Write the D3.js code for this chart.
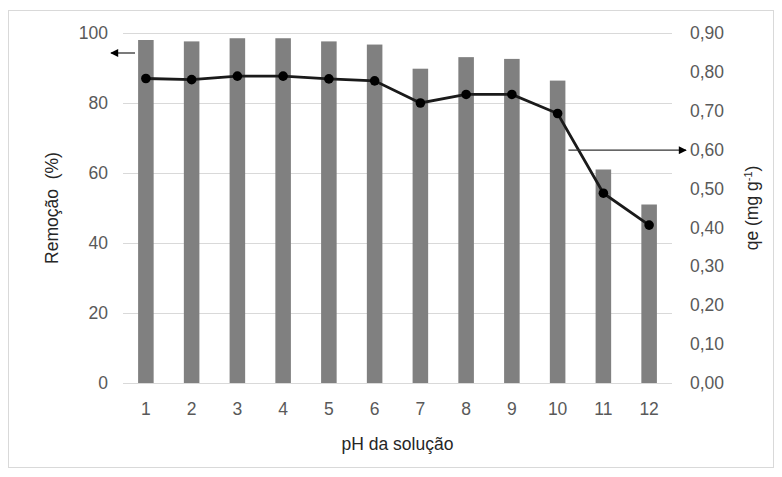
<!DOCTYPE html>
<html><head><meta charset="utf-8">
<script src="https://cdn.jsdelivr.net/npm/d3@7"></script>
<style>body{margin:0;background:#fff}svg{display:block}text{font-family:"Liberation Sans",Arial,sans-serif}</style>
</head><body><svg id="c" width="782" height="477"></svg>
<script>
const categories = ["1","2","3","4","5","6","7","8","9","10","11","12"];
const removal = [98, 97.6, 98.5, 98.5, 97.6, 96.7, 89.8, 93.1, 92.6, 86.4, 61, 51];
const qe = [0.783, 0.780, 0.789, 0.789, 0.782, 0.777, 0.720, 0.742, 0.742, 0.693, 0.488, 0.406];
const leftTicks = [0, 20, 40, 60, 80, 100];
const rightTicks = [0, 0.1, 0.2, 0.3, 0.4, 0.5, 0.6, 0.7, 0.8, 0.9];

const svg = d3.select("#c");
const m = {l:123, r:672, t:33, b:383};
svg.append("rect").attr("x",8.5).attr("y",10.5).attr("width",765).attr("height",457)
  .attr("fill","#fff").attr("stroke","#d9d9d9");

const x = d3.scaleBand().domain(categories).range([m.l, m.r]).paddingInner(0.66).paddingOuter(0.33);
const yL = d3.scaleLinear().domain([0,100]).range([m.b, m.t]);
const yR = d3.scaleLinear().domain([0,0.9]).range([m.b, m.t]);

// gridlines
svg.append("g").selectAll("line").data(leftTicks).join("line")
  .attr("x1", m.l).attr("x2", m.r).attr("y1", d=>yL(d)+0.5).attr("y2", d=>yL(d)+0.5)
  .attr("stroke","#d9d9d9").attr("stroke-width",1);

const tf = "Liberation Sans, Arial, sans-serif";
// left axis
const gl = svg.append("g").attr("transform",`translate(${m.l-15},0)`)
  .call(d3.axisLeft(yL).tickValues(leftTicks).tickSize(0).tickPadding(0));
gl.select(".domain").remove();
gl.selectAll("text").attr("font-size",17.5).attr("fill","#595959").attr("font-family",tf);

// right axis
const gr = svg.append("g").attr("transform",`translate(${m.r+18},0)`)
  .call(d3.axisRight(yR).tickValues(rightTicks).tickSize(0).tickPadding(0)
    .tickFormat(d=>d3.format(".2f")(d).replace(".",",")));
gr.select(".domain").remove();
gr.selectAll("text").attr("font-size",17.5).attr("fill","#595959").attr("font-family",tf);

// x axis
const gx = svg.append("g").attr("transform",`translate(0,${m.b+20})`)
  .call(d3.axisBottom(x).tickSize(0).tickPadding(0));
gx.select(".domain").remove();
gx.selectAll("text").attr("font-size",17.5).attr("fill","#595959").attr("font-family",tf);

// bars
svg.append("g").selectAll("rect").data(removal).join("rect")
  .attr("x",(d,i)=>x(categories[i])).attr("width",x.bandwidth())
  .attr("y",d=>yL(d)).attr("height",d=>m.b-yL(d)).attr("fill","#808080");

// line
const line = d3.line().x((d,i)=>x(categories[i])+x.bandwidth()/2).y(d=>yR(d));
svg.append("path").datum(qe).attr("d",line).attr("fill","none").attr("stroke","#1a1a1a").attr("stroke-width",2.8);
svg.append("g").selectAll("circle").data(qe).join("circle")
  .attr("cx",(d,i)=>x(categories[i])+x.bandwidth()/2).attr("cy",d=>yR(d)).attr("r",4.8).attr("fill","#000");

// arrows
const defs = svg.append("defs");
defs.append("marker").attr("id","ah").attr("viewBox","0 0 10 10").attr("refX",9).attr("refY",5)
  .attr("markerWidth",10).attr("markerHeight",8).attr("markerUnits","userSpaceOnUse").attr("orient","auto")
  .append("path").attr("d","M0,0L10,5L0,10z").attr("fill","#000");
svg.append("line").attr("x1",135).attr("x2",111).attr("y1",53).attr("y2",53)
  .attr("stroke","#333").attr("stroke-width",1.3).attr("marker-end","url(#ah)");
svg.append("line").attr("x1",x("10")+x.bandwidth()+3).attr("x2",686).attr("y1",yR(0.6)+0.5).attr("y2",yR(0.6)+0.5)
  .attr("stroke","#333").attr("stroke-width",1.3).attr("marker-end","url(#ah)");

// titles
svg.append("text").attr("x",(m.l+m.r)/2).attr("y",450).attr("text-anchor","middle")
  .attr("font-size",17.5).attr("fill","#262626").text("pH da solução");
svg.append("text").attr("transform",`translate(58,${(m.t+m.b)/2}) rotate(-90)`).attr("text-anchor","middle")
  .attr("font-size",17.5).attr("fill","#262626").text("Remoção\u00a0\u00a0(%)");
const rt = svg.append("text").attr("transform",`translate(758,${(m.t+m.b)/2}) rotate(-90)`).attr("text-anchor","middle")
  .attr("font-size",17.5).attr("fill","#262626");
rt.append("tspan").text("qe (mg g");
rt.append("tspan").attr("dy",-6).attr("font-size",11).text("-1");
rt.append("tspan").attr("dy",6).text(")");
</script></body></html>
